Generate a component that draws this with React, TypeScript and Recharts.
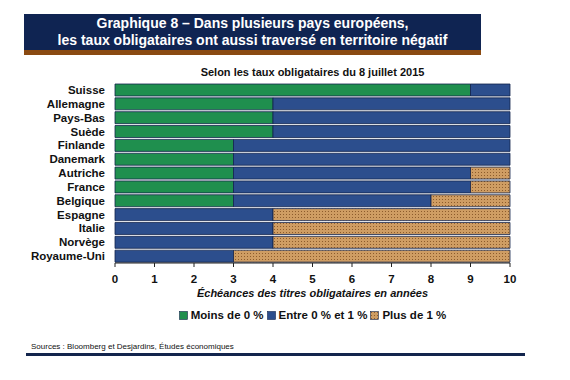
import { BarChart, Bar, XAxis, YAxis } from 'recharts'

const countries = [
  'Suisse', 'Allemagne', 'Pays-Bas', 'Suède', 'Finlande', 'Danemark', 'Autriche',
  'France', 'Belgique', 'Espagne', 'Italie', 'Norvège', 'Royaume-Uni',
]
const moinsDe0 = [9, 4, 4, 4, 3, 3, 3, 3, 3, 0, 0, 0, 0]
const entre0et1 = [1, 6, 6, 6, 7, 7, 6, 6, 5, 4, 4, 4, 3]
const plusDe1 = [0, 0, 0, 0, 0, 0, 1, 1, 2, 6, 6, 6, 7]
const xTicks = [0, 1, 2, 3, 4, 5, 6, 7, 8, 9, 10]

const GREEN = '#1f8f4e'
const BLUE = '#2c4e8d'
const TAN = '#cf9d63'
const NAVY = '#13254d'
const FONT = '"Liberation Sans", Arial, sans-serif'

const data = countries.map((name, i) => ({
  name,
  moins: moinsDe0[i],
  entre: entre0et1[i],
  plus: plusDe1[i],
}))

const legendItems = [
  { label: 'Moins de 0 %', fill: GREEN },
  { label: 'Entre 0 % et 1 %', fill: BLUE },
  { label: 'Plus de 1 %', fill: 'url(#tanDotsLeg)' },
]

function ChartLegend() {
  return (
    <div style={{ position: 'absolute', top: 309, left: 115, width: 395, display: 'flex', justifyContent: 'center', gap: 3, fontWeight: 700, fontSize: 11.5, color: '#111' }}>
      {legendItems.map(it => (
        <span key={it.label} style={{ display: 'flex', alignItems: 'center' }}>
          <svg width={9} height={9} style={{ marginRight: 3 }}>
            <defs>
              <pattern id="tanDotsLeg" width={3} height={3} patternUnits="userSpaceOnUse">
                <rect width={3} height={3} fill={TAN} />
                <rect x={1} y={1} width={1} height={1} fill="#8d5c2c" />
              </pattern>
            </defs>
            <rect x={0.5} y={0.5} width={8} height={8} fill={it.fill} stroke={NAVY} strokeWidth={0.6} />
          </svg>
          {it.label}
        </span>
      ))}
    </div>
  )
}

export default function App() {
  return (
    <div style={{ position: 'absolute', left: 0, top: 0, width: 570, height: 380, background: '#fff', fontFamily: FONT }}>
      <div style={{ position: 'absolute', left: 24, top: 14, width: 457, height: 36, background: '#0f2452', color: '#fff', fontWeight: 700, fontSize: 14, lineHeight: '17px', textAlign: 'center', paddingTop: 1 }}>
        Graphique 8 – Dans plusieurs pays européens,<br />
        les taux obligataires ont aussi traversé en territoire négatif
      </div>
      <div style={{ position: 'absolute', left: 24, top: 50, width: 457, height: 5, background: '#8a4a12' }} />
      <div style={{ position: 'absolute', left: 115, top: 66, width: 395, textAlign: 'center', fontWeight: 700, fontSize: 11, color: '#111' }}>
        Selon les taux obligataires du 8 juillet 2015
      </div>
      <BarChart
        width={570}
        height={380}
        data={data}
        layout="vertical"
        margin={{ top: 83, right: 60, bottom: 97, left: 35 }}
        barCategoryGap={1}
        style={{ position: 'absolute', left: 0, top: 0 }}
      >
        <defs>
          <pattern id="tanDots" width={3} height={3} patternUnits="userSpaceOnUse">
            <rect width={3} height={3} fill={TAN} />
            <rect x={1} y={1} width={1} height={1} fill="#8d5c2c" />
          </pattern>
        </defs>
        <XAxis
          type="number"
          domain={[0, 10]}
          ticks={xTicks}
          height={20}
          axisLine={{ stroke: '#222' }}
          tickLine={{ stroke: '#222' }}
          tickSize={4}
          tick={{ fill: '#111', fontSize: 11.5, fontWeight: 700, fontFamily: FONT }}
          tickMargin={8}
        />
        <YAxis
          type="category"
          dataKey="name"
          width={80}
          interval={0}
          axisLine={false}
          tickLine={false}
          tickMargin={4}
          tick={{ fill: '#111', fontSize: 11.5, fontWeight: 700, fontFamily: FONT }}
        />
        <Bar dataKey="moins" stackId="a" fill={GREEN} stroke={NAVY} strokeWidth={0.8} isAnimationActive={false} />
        <Bar dataKey="entre" stackId="a" fill={BLUE} stroke={NAVY} strokeWidth={0.8} isAnimationActive={false} />
        <Bar dataKey="plus" stackId="a" fill="url(#tanDots)" stroke={NAVY} strokeWidth={0.8} isAnimationActive={false} />
      </BarChart>
      <div style={{ position: 'absolute', left: 115, top: 287, width: 395, textAlign: 'center', fontWeight: 700, fontStyle: 'italic', fontSize: 11, color: '#111' }}>
        Échéances des titres obligataires en années
      </div>
      <ChartLegend />
      <div style={{ position: 'absolute', left: 31, top: 342, fontSize: 8, color: '#111' }}>
        Sources : Bloomberg et Desjardins, Études économiques
      </div>
      <div style={{ position: 'absolute', left: 26, top: 353, width: 499, height: 3, background: NAVY }} />
    </div>
  )
}
